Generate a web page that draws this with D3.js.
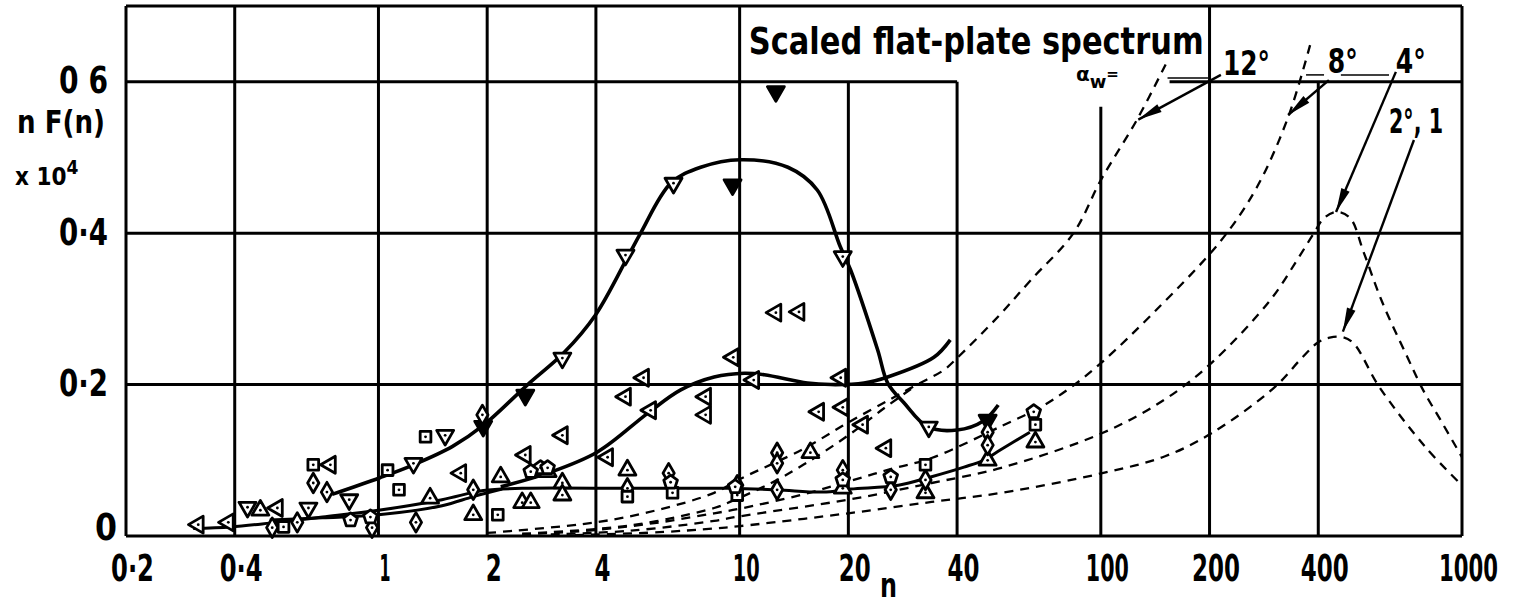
<!DOCTYPE html>
<html><head><meta charset="utf-8">
<script src="https://cdn.jsdelivr.net/npm/d3@7"></script>
<style>body{margin:0;background:#fff}svg{display:block}</style>
</head><body><svg id="c" width="1527" height="606"></svg>
<script>
// ---------- DATA ----------
const xTicks = [0.2, 0.4, 1, 2, 4, 10, 20, 40, 100, 200, 400, 1000];
const xTickLabels = ["0·2", "0·4", "1", "2", "4", "10", "20", "40", "100", "200", "400", "1000"];
const yTicks = [0, 0.2, 0.4, 0.6];
const yTickLabels = ["0", "0·2", "0·4", "0 6"];

// solid fitted curves [n, nF(n) x10^4]
const curveUpper = [[0.744,0.055],[1.01,0.077],[1.25,0.094],[1.6,0.118],[1.95,0.146],[2.59,0.2],[3.26,0.242],[3.99,0.292],[4.93,0.371],[5.32,0.40],[6.45,0.466],[7.8,0.487],[10.05,0.497],[13.6,0.487],[16.4,0.457],[19,0.382],[20.3,0.351],[24.1,0.246],[25.7,0.202],[28.5,0.176],[33.2,0.144],[40,0.14],[47.3,0.152],[52,0.173]];
const curveMiddle = [[2.18,0.065],[2.94,0.083],[4.04,0.111],[5.56,0.162],[6.87,0.193],[8.5,0.21],[10.3,0.215],[11.7,0.213],[15.4,0.202],[17.9,0.2],[22.1,0.202],[25.7,0.21],[34.5,0.236],[38.3,0.259]];
const curveLower = [[0.307,0.01],[0.39,0.012],[0.5,0.017],[0.7,0.025],[1,0.034],[1.5,0.048],[1.95,0.06],[2.5,0.063],[5,0.063],[9.4,0.063],[12.7,0.061],[17,0.058],[20.3,0.062],[27.5,0.067],[33.8,0.078],[41.8,0.091],[47.3,0.10],[52.8,0.114],[63.6,0.137]];
const curveLower2 = [[0.5,0.021],[0.7,0.024],[1,0.028],[1.5,0.04],[1.83,0.052],[2.2,0.062]];

// dashed scaled flat-plate spectra
const flat12 = [[2,0.004],[4,0.018],[6,0.035],[8.5,0.057],[10,0.075],[15,0.115],[20,0.15],[26,0.18],[31,0.2],[36.7,0.219],[40,0.235],[52,0.29],[64,0.338],[84,0.40],[100,0.47],[126,0.55],[152,0.625]];
const flat12b = [[2.5,0.003],[5,0.014],[8.5,0.037],[9.4,0.045],[12,0.068],[15,0.094],[20,0.133],[25,0.168],[31,0.2]];
const flat8 = [[2.5,0.002],[4,0.008],[6,0.018],[8.5,0.03],[10,0.036],[15,0.055],[20,0.072],[26,0.088],[34,0.103],[53,0.145],[68,0.17],[83,0.197],[101,0.23],[140,0.295],[215,0.39],[270,0.46],[330,0.553],[382,0.653]];
const flat4 = [[3,0.002],[5,0.007],[8.5,0.02],[10,0.026],[20,0.048],[34,0.07],[53,0.09],[101,0.136],[150,0.18],[203,0.229],[295,0.312],[350,0.365],[389,0.40],[415,0.42],[450,0.428],[490,0.42],[535,0.374],[600,0.31],[700,0.24],[780,0.193],[880,0.15],[1000,0.104]];
const flat2 = [[3.5,0.001],[6,0.005],[8.5,0.01],[10,0.013],[20,0.03],[34,0.045],[53,0.057],[101,0.083],[150,0.105],[203,0.136],[302,0.196],[360,0.235],[400,0.256],[430,0.262],[465,0.263],[500,0.255],[590,0.197],[790,0.118],[980,0.071]];

// measured points
const downTriFilled = [[12.6,0.587],[9.56,0.464],[2.55,0.186],[1.95,0.145],[48.6,0.153]];
const downTri = [[6.56,0.466],[4.83,0.371],[19.3,0.369],[3.23,0.235],[33.4,0.144],[1.53,0.133],[1.25,0.096],[0.83,0.048],[0.434,0.038],[0.64,0.037]];
const leftTri = [[12.6,0.295],[14.6,0.296],[9.6,0.236],[5.42,0.209],[4.83,0.184],[8.05,0.184],[5.67,0.166],[8.05,0.16],[3.23,0.133],[4.31,0.104],[2.55,0.107],[0.736,0.094],[1.69,0.083],[10.94,0.206],[19.05,0.209],[16.55,0.164],[19.3,0.17],[21.9,0.147],[25.4,0.116],[0.525,0.037],[0.317,0.015],[0.384,0.018]];
const upTri = [[4.89,0.087],[2.18,0.078],[3.23,0.07],[3.23,0.054],[2.5,0.044],[2.64,0.044],[1.83,0.028],[1.39,0.05],[0.471,0.034],[15.7,0.11],[19.3,0.063],[32.7,0.057],[48.6,0.10],[65.9,0.124],[2.94,0.085]];
const diamonds = [[1.94,0.16],[0.66,0.07],[0.72,0.058],[1.27,0.018],[12.7,0.11],[12.7,0.096],[19.3,0.087],[26.2,0.061],[32.7,0.074],[9.85,0.067],[12.7,0.061],[48.6,0.137],[48.6,0.12],[4.89,0.063],[6.36,0.083],[0.508,0.011],[0.96,0.011],[1.83,0.061],[0.596,0.018]];
const squares = [[1.35,0.131],[0.66,0.094],[1.06,0.087],[1.14,0.061],[2.14,0.028],[4.89,0.052],[6.52,0.057],[32.7,0.094],[65.9,0.147],[0.546,0.012],[9.85,0.054]];
const pentagons = [[2.81,0.09],[2.94,0.09],[2.64,0.085],[6.44,0.071],[9.72,0.065],[19.3,0.074],[26.2,0.078],[65.2,0.164],[0.837,0.021],[0.95,0.025]];

// annotation anchors in data units
const arrows = [
  [[215,0.609],[127,0.55]],
  [[428,0.602],[330,0.556]],
  [[656,0.613],[448,0.428]],
  [[736,0.523],[468,0.27]]
];
const leaders = [[[153,0.605],[198,0.605]],[[370,0.609],[415,0.609]],[[462,0.609],[628,0.609]]];
const angleLabels = ["12°", "8°", "4°", "2°, 1"];
const angleLabelAt = [[218,0.609],[425,0.612],[656,0.612],[628,0.532]];

// ---------- DRAW ----------
const svg = d3.select("#c");
const x = d3.scaleLog().domain([0.2, 1000]).range([126, 1462]);
const y = d3.scaleLinear().domain([0, 0.7]).range([536, 6]);
const FONT = "'DejaVu Sans', sans-serif";

const charW = c => c === "1" ? 11 : (c === "·" || c === " ") ? 11 : 16;
const txtLen = s => Array.from(s).reduce((a, c) => a + charW(c), 0);
// squeeze a text horizontally so its width becomes w
function squeeze(el, w, tx, ty) {
  const nat = el.getComputedTextLength();
  const sx = w / nat;
  d3.select(el).attr("transform", `translate(${tx},${ty}) scale(${sx},1)`);
}
function label(str, px, py, size, w, anchor) {
  const t = svg.append("text").attr("x", 0).attr("y", 0).attr("font-family", FONT).attr("font-weight", "bold")
    .attr("font-size", size).attr("text-anchor", anchor || "start").text(str);
  squeeze(t.node(), w, px, py);
  return t;
}

// grid
const g = svg.append("g").attr("stroke", "#000").attr("stroke-width", 3).attr("fill", "none");
xTicks.forEach(t => {
  let top = 0.7;
  if (t === 20 || t === 40 || t === 400) top = 0.6;
  if (t === 100) top = 0.567;
  g.append("line").attr("x1", x(t)).attr("x2", x(t)).attr("y1", y(0)).attr("y2", y(top));
});
[0, 0.2, 0.4, 0.7].forEach(v => g.append("line").attr("x1", x(0.2)).attr("x2", x(1000)).attr("y1", y(v)).attr("y2", y(v)));
g.append("line").attr("x1", x(0.2)).attr("x2", x(40)).attr("y1", y(0.6)).attr("y2", y(0.6));
g.append("line").attr("x1", x(155)).attr("x2", x(1000)).attr("y1", y(0.6)).attr("y2", y(0.6));

// axes (labels only)
const ax = svg.append("g").attr("transform", `translate(0,${y(0)})`)
  .call(d3.axisBottom(x).tickValues(xTicks).tickFormat((d, i) => xTickLabels[i]).tickSize(0).tickPadding(19));
ax.select(".domain").remove();
ax.selectAll("text").attr("font-family", FONT).attr("font-weight", "bold").attr("font-size", 37).attr("fill", "#000")
  .each(function (d, i) { squeeze(this, txtLen(xTickLabels[i]), 6, 0); });

const ay = svg.append("g").attr("transform", `translate(${x(0.2)},0)`)
  .call(d3.axisLeft(y).tickValues(yTicks).tickFormat((d, i) => yTickLabels[i]).tickSize(0).tickPadding(18));
ay.select(".domain").remove();
ay.selectAll("text").attr("font-family", FONT).attr("font-weight", "bold").attr("font-size", 37).attr("fill", "#000")
  .attr("dy", d => d === 0 ? "0.1em" : "0.3em")
  .each(function (d, i) { d3.select(this).attr("x", 0); squeeze(this, txtLen(yTickLabels[i]) + 6, d === 0 ? -9 : -18, 0); });

// axis titles
label("n F(n)", 17, 133, 32, 88);
const t2 = svg.append("text").attr("x", 0).attr("y", 0).attr("font-family", FONT).attr("font-weight", "bold").attr("font-size", 24);
t2.append("tspan").text("x 10");
t2.append("tspan").attr("dy", -11).attr("font-size", 19).text("4");
t2.attr("transform", "translate(15,185) scale(0.9,1)");
label("n", 880, 597, 34, 17);

// dashed spectra
const line = d3.line().x(d => x(d[0])).y(d => y(d[1])).curve(d3.curveCatmullRom.alpha(0.5));
[flat12, flat12b, flat8, flat4, flat2].forEach(s => svg.append("path").attr("d", line(s)).attr("fill", "none")
  .attr("stroke", "#000").attr("stroke-width", 2.3).attr("stroke-dasharray", "9,7"));

// solid curves
[curveUpper, curveMiddle, curveLower, curveLower2].forEach((s, i) => svg.append("path").attr("d", line(s))
  .attr("fill", "none").attr("stroke", "#000").attr("stroke-width", i < 2 ? 3.6 : 3));

// markers
const mk = svg.append("g").attr("stroke", "#000").attr("stroke-width", 2.8).attr("stroke-linejoin", "round");
const tri = d3.symbol().type(d3.symbolTriangle).size(125)();
const dia = d3.symbol().type(d3.symbolDiamond).size(110)();
const sq = d3.symbol().type(d3.symbolSquare).size(115)();
const pent = d3.line()(d3.range(5).map(k => [7.2 * Math.sin(k * 2 * Math.PI / 5), -7.2 * Math.cos(k * 2 * Math.PI / 5)])) + "Z";
function draw(data, path, rot, fill) {
  data.forEach(d => {
    const gg = mk.append("g").attr("transform", `translate(${x(d[0])},${y(d[1])}) rotate(${rot})`);
    gg.append("path").attr("d", path).attr("fill", fill);
    if (fill !== "#000") gg.append("circle").attr("r", 1.4).attr("fill", "#000").attr("stroke", "none");
  });
}
draw(downTri, tri, 180, "#fff");
draw(downTriFilled, tri, 180, "#000");
draw(leftTri, tri, -90, "#fff");
draw(upTri, tri, 0, "#fff");
draw(diamonds, dia, 0, "#fff");
draw(squares, sq, 0, "#fff");
draw(pentagons, pent, 0, "#fff");

// annotations
svg.append("defs").append("marker").attr("id", "ah").attr("viewBox", "-26 -6 28 12")
  .attr("refX", 0).attr("refY", 0).attr("markerWidth", 28).attr("markerHeight", 12)
  .attr("markerUnits", "userSpaceOnUse").attr("orient", "auto")
  .append("path").attr("d", "M0,0 L-24,-4.5 L-24,4.5 Z").attr("fill", "#000");
arrows.forEach(a => svg.append("line").attr("x1", x(a[0][0])).attr("y1", y(a[0][1]))
  .attr("x2", x(a[1][0])).attr("y2", y(a[1][1])).attr("stroke", "#000").attr("stroke-width", 2.4)
  .attr("marker-end", "url(#ah)"));
leaders.forEach(a => svg.append("line").attr("x1", x(a[0][0])).attr("y1", y(a[0][1]))
  .attr("x2", x(a[1][0])).attr("y2", y(a[1][1])).attr("stroke", "#000").attr("stroke-width", 1.5));

label("Scaled flat-plate spectrum", x(10.6), y(0.636), 38, 455);
angleLabels.forEach((s, i) => label(s, x(angleLabelAt[i][0]), y(angleLabelAt[i][1]), 34, s === "2°, 1" ? 54 : s.length * 17 - 4));
const al = svg.append("text").attr("x", 0).attr("y", 0).attr("font-family", FONT).attr("font-weight", "bold").attr("font-size", 20);
al.append("tspan").text("α");
al.append("tspan").attr("dy", 7).attr("font-size", 18).text("w");
al.append("tspan").attr("dy", -9).attr("font-size", 15).text("=");
al.attr("transform", `translate(${x(85.3)},${y(0.601)})`);
</script></body></html>
